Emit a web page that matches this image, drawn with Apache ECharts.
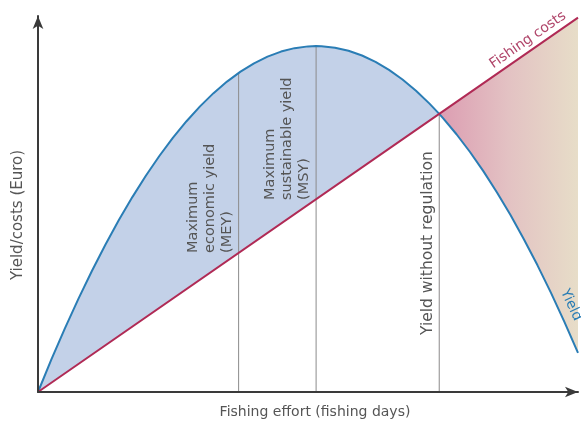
<!DOCTYPE html>
<html><head><meta charset="utf-8">
<script src="https://cdn.jsdelivr.net/npm/echarts@6/dist/echarts.min.js"></script>
<style>html,body{margin:0;padding:0;background:#fff}#c{width:581px;height:423px}</style>
</head><body><div id="c"></div>
<script>
// Fishing effort (x) and yield (y)
const effort = [0,2.5,5,7.5,10,12.5,15,17.5,20,22.5,25,27.5,30,32.5,35,37.5,40,42.5,45,47.5,50,51.5,52.5,55,57.5,60,62.5,65,67.5,70,72.5,74.3,75,77.5,80,82.5,85,87.5,90,92.5,95,97.5,100];
const yieldValues = [0,8.72,17.00,24.85,32.26,39.24,45.79,51.90,57.58,62.83,67.64,72.02,75.97,79.48,82.56,85.20,87.41,89.19,90.54,91.45,91.92,92.00,91.97,91.58,90.75,89.49,87.80,85.68,83.12,80.13,76.70,73.97,72.84,68.55,63.83,58.67,53.07,47.05,40.58,33.69,26.36,18.60,10.41];
// Fishing costs (straight line)
const costEffort = [0, 74.3, 100];
const costValues = [0, 73.97, 99.56];
// Reference efforts: MEY, MSY, open access
const refNames = ['MEY','MSY','Open access'];
const refEffort = [37.15, 51.5, 74.3];
const refYield = [84.86, 92.00, 73.97];
const openEffort = 74.3;

const yieldPairs = effort.map((x,i)=>[x, yieldValues[i]]);
const costPairs = costEffort.map((x,i)=>[x, costValues[i]]);
const leftYield = yieldPairs.filter(p=>p[0]<=openEffort);
const rightYield = yieldPairs.filter(p=>p[0]>=openEffort);
const leftCost = costPairs.filter(p=>p[0]<=openEffort);
const rightCost = costPairs.filter(p=>p[0]>=openEffort);

const chart = echarts.init(document.getElementById('c'), null, {renderer:'canvas'});
const base = {type:'line', showSymbol:false, silent:true, animation:false};
const series = [
  Object.assign({}, base, {name:'profit', data:leftYield, z:1, lineStyle:{width:0,opacity:0}, areaStyle:{color:'#c3d1e8', opacity:1}}),
  Object.assign({}, base, {name:'loss', data:rightCost, z:1, lineStyle:{width:0,opacity:0},
    areaStyle:{opacity:1, color:new echarts.graphic.LinearGradient(0,0,1,0,[{offset:0,color:'#dc9db2'},{offset:0.5,color:'#e3c2c3'},{offset:1,color:'#e7ddc8'}])}}),
  Object.assign({}, base, {name:'cover1', data:leftCost, z:2, lineStyle:{width:0,opacity:0}, areaStyle:{color:'#ffffff', opacity:1}}),
  Object.assign({}, base, {name:'cover2', data:rightYield, z:2, lineStyle:{width:0,opacity:0}, areaStyle:{color:'#ffffff', opacity:1}})
];
refEffort.forEach((x,i)=>{
  series.push(Object.assign({}, base, {name:refNames[i], data:[[x,0],[x,refYield[i]]], z:3, lineStyle:{color:'#8c8c8c', width:1}}));
});
series.push(Object.assign({}, base, {name:'Yield', data:yieldPairs, z:4, lineStyle:{color:'#2a7db5', width:2}}));
series.push(Object.assign({}, base, {name:'Fishing costs', data:costPairs, z:4, lineStyle:{color:'#b02a55', width:2}}));

const axisCommon = {type:'value', min:0, max:100, z:6,
  axisLine:{show:true, lineStyle:{color:'#3a3a3a', width:2}, symbol:['none','arrow'], symbolSize:[8,13]},
  axisTick:{show:false}, axisLabel:{show:false}, splitLine:{show:false}};

chart.setOption({
  animation:false,
  grid:{left:38, right:3, top:16, bottom:31},
  xAxis:Object.assign({}, axisCommon),
  yAxis:Object.assign({}, axisCommon),
  series:series
});

const F = 'DejaVu Sans';
const txt = (text, x, y, rot, size, opts) => ({type:'text', x:x, y:y, rotation:rot, z:10, silent:true,
  style:Object.assign({text:text, font:size+'px "'+F+'"', fill:'#555', align:'center', verticalAlign:'middle'}, opts||{})});
chart.setOption({graphic:[
  txt('Fishing effort (fishing days)', 315, 412, 0, 14),
  txt('Yield/costs (Euro)', 18, 215, Math.PI/2, 15),
  txt('Maximum\neconomic yield\n(MEY)', 210, 253, Math.PI/2, 14.5, {align:'left', lineHeight:17}),
  txt('Maximum\nsustainable yield\n(MSY)', 287, 200, Math.PI/2, 14.5, {align:'left', lineHeight:17}),
  txt('Yield without regulation', 428, 335, Math.PI/2, 15.5, {align:'left'}),
  txt('Fishing costs', 528, 40, Math.atan(0.6932), 14, {fill:'#b0456a'}),
  txt('Yield', 571, 305, -65*Math.PI/180, 14, {fill:'#2a7db5'})
]});
</script></body></html>
